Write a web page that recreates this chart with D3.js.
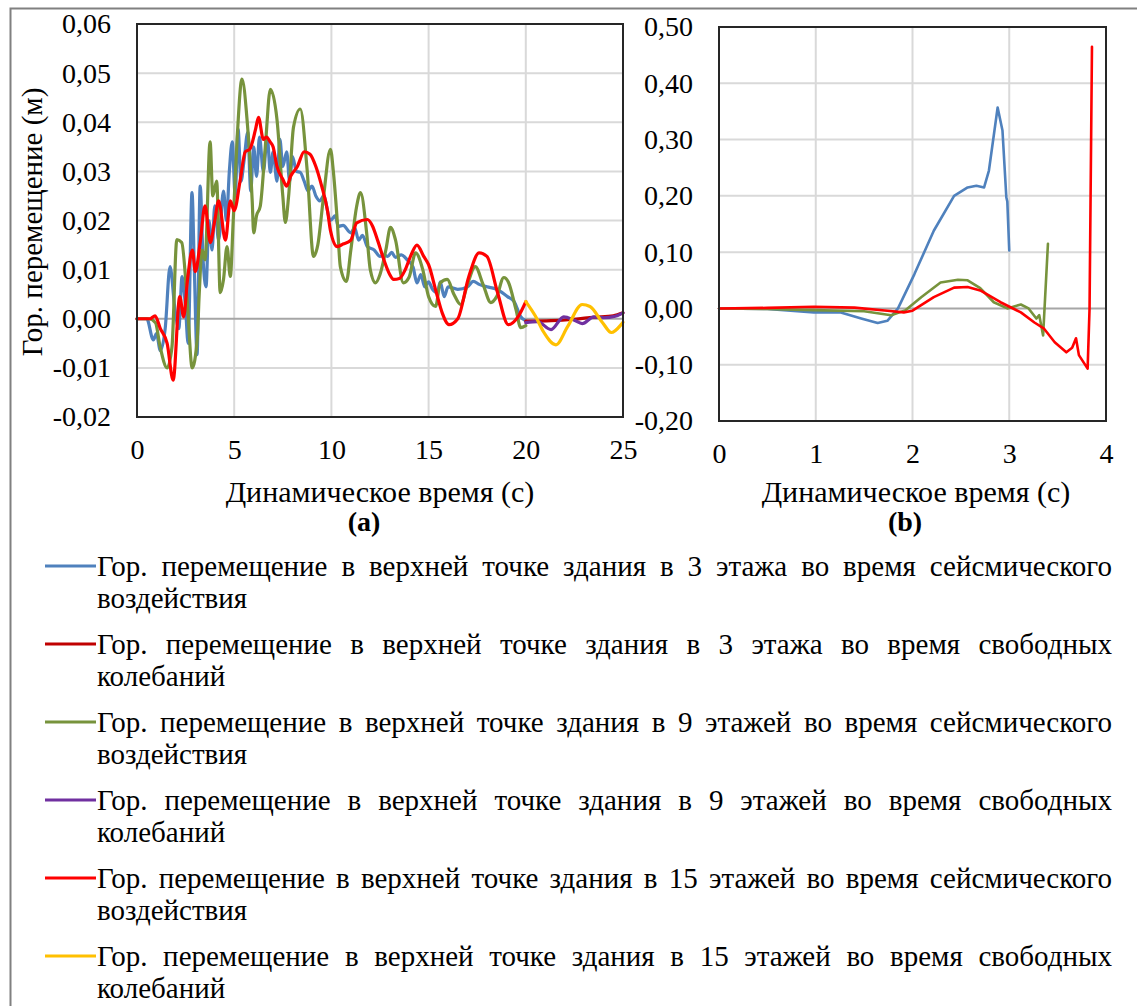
<!DOCTYPE html>
<html><head><meta charset="utf-8">
<script src="https://cdn.jsdelivr.net/npm/d3@7"></script>
<style>body{margin:0;background:#fff}svg{display:block}text{font-family:"Liberation Serif","Times New Roman",Tinos,"DejaVu Serif",serif;fill:#000}</style>
</head><body>
<svg id="c" width="1138" height="1006"></svg>
<script>
// ---------- data ----------
const xTicksA = [0,5,10,15,20,25];
const yTicksA = [-0.02,-0.01,0,0.01,0.02,0.03,0.04,0.05,0.06];
const xTicksB = [0,1,2,3,4];
const yTicksB = [-0.2,-0.1,0,0.1,0.2,0.3,0.4,0.5];

// (a) [time s, displacement m]
const a3seis = [[0,0],[0.5,0],[0.84,-0.0043],[1.0,-0.003],[1.2,-0.0065],[1.45,-0.002],[1.7,0.0106],[1.95,0.002],[2.15,-0.002],[2.32,0.0086],[2.5,0.002],[2.63,-0.005],[2.83,0.0257],[2.95,0.01],[3.09,-0.0073],[3.25,0.027],[3.4,0.012],[3.55,0.0065],[3.7,0.02],[3.86,0.014],[4.0,0.023],[4.2,0.016],[4.45,0.026],[4.6,0.02],[4.75,0.03],[4.9,0.036],[5.05,0.025],[5.2,0.0386],[5.35,0.028],[5.5,0.032],[5.7,0.038],[5.85,0.026],[6.0,0.035],[6.15,0.029],[6.3,0.037],[6.5,0.03],[6.7,0.037],[6.86,0.0298],[7.0,0.034],[7.2,0.028],[7.35,0.0365],[7.5,0.031],[7.7,0.034],[7.85,0.028],[8.0,0.033],[8.2,0.03],[8.4,0.0298],[8.6,0.028],[8.8,0.026],[9.0,0.027],[9.2,0.025],[9.4,0.024],[9.6,0.025],[9.95,0.02],[10.2,0.021],[10.35,0.0188],[10.6,0.019],[11.0,0.0175],[11.2,0.0185],[11.4,0.016],[11.6,0.017],[11.85,0.0147],[12.2,0.014],[12.5,0.0127],[12.7,0.013],[12.9,0.0127],[13.1,0.0135],[13.3,0.0125],[13.6,0.013],[13.9,0.012],[14.2,0.0105],[14.4,0.0073],[14.6,0.009],[14.8,0.0065],[15.0,0.0075],[15.2,0.006],[15.45,0.0053],[15.6,0.0075],[15.8,0.0045],[16.0,0.0065],[16.5,0.006],[17.0,0.0065],[17.3,0.0076],[17.6,0.007],[18.0,0.0065],[18.5,0.006],[19.06,0.0045],[19.4,0.0035],[19.74,0.0004],[20,-0.0004]];
const a3free = [[20,-0.0005],[21.3,-0.0004],[22.5,-0.0001],[23.5,0.0003],[24.5,0.0006],[25,0.0012]];
const a9seis = [[0,0],[0.6,0],[0.95,-0.0008],[1.19,-0.0057],[1.55,-0.01],[1.8,-0.0057],[2.05,0.0161],[2.3,0.0155],[2.58,0.0039],[2.84,-0.01],[3.1,-0.004],[3.2,0.005],[3.35,0.014],[3.5,0.012],[3.76,0.036],[3.9,0.025],[4.1,0.028],[4.28,0.0053],[4.45,0.008],[4.63,0.0147],[4.8,0.0086],[4.95,0.02],[5.15,0.0366],[5.4,0.0488],[5.66,0.0406],[5.93,0.0237],[6.0,0.0175],[6.15,0.021],[6.34,0.0229],[6.6,0.035],[6.86,0.0467],[7.2,0.0406],[7.5,0.025],[7.63,0.0196],[7.8,0.025],[8.05,0.039],[8.4,0.0427],[8.75,0.0304],[9.08,0.0127],[9.3,0.015],[9.6,0.025],[9.95,0.0345],[10.1,0.03],[10.3,0.02],[10.46,0.0106],[10.77,0.0076],[11.0,0.014],[11.3,0.0229],[11.5,0.0257],[11.8,0.018],[12.0,0.01],[12.27,0.0073],[12.5,0.009],[12.8,0.014],[13.04,0.0186],[13.3,0.016],[13.7,0.0073],[14.0,0.0085],[14.33,0.0134],[14.7,0.01],[15.0,0.0045],[15.36,0.0025],[15.6,0.0073],[15.96,0.008],[16.3,0.005],[16.65,0.0029],[17.0,0.007],[17.4,0.0106],[17.8,0.007],[18.2,0.0033],[18.5,0.0045],[18.87,0.0084],[19.1,0.0075],[19.5,0.0018],[19.74,-0.0018],[20,-0.0014]];
const a9free = [[20,-0.0008],[20.6,-0.0006],[21.3,-0.0022],[21.95,0.0004],[22.5,-0.0003],[22.9,-0.001],[23.5,0.0004],[24.0,0.0002],[24.6,0.0005],[25,0.0012]];
const a15seis = [[0,0],[0.67,0],[0.93,0.0006],[1.2,-0.002],[1.55,-0.005],[1.86,-0.0125],[2.2,0.0045],[2.4,0.0004],[2.6,0.008],[2.85,0.014],[3.0,0.0096],[3.25,0.0155],[3.5,0.023],[3.77,0.0155],[4.0,0.02],[4.2,0.024],[4.55,0.016],[4.8,0.024],[5.0,0.022],[5.3,0.028],[5.57,0.034],[5.8,0.0345],[6.1,0.0386],[6.25,0.041],[6.5,0.0365],[6.65,0.037],[6.85,0.036],[7.0,0.035],[7.2,0.031],[7.5,0.0284],[7.7,0.027],[7.9,0.029],[8.25,0.031],[8.6,0.034],[8.9,0.0335],[9.2,0.031],[9.5,0.027],[9.8,0.022],[9.95,0.018],[10.3,0.0147],[10.6,0.0152],[11.0,0.016],[11.3,0.0195],[11.85,0.0202],[12.1,0.019],[12.4,0.0157],[12.7,0.012],[13.0,0.009],[13.2,0.008],[13.5,0.0082],[13.8,0.01],[14.1,0.013],[14.4,0.015],[14.75,0.0127],[15.0,0.011],[15.4,0.0053],[15.7,0.0012],[16.05,-0.0012],[16.5,0],[17.07,0.0086],[17.6,0.0134],[18.0,0.0127],[18.55,0.0053],[19.1,-0.0012],[19.6,0.0004],[20,0.0035]];
const a15free = [[20,0.0035],[20.5,0.0005],[20.9,-0.0026],[21.55,-0.0053],[22.15,-0.0016],[22.9,0.0029],[23.3,0.0025],[23.95,-0.0008],[24.4,-0.0028],[24.9,-0.0012],[25,-0.0007]];

// (b)
const b3seis = [[0,0],[0.5,-0.001],[0.98,-0.007],[1.25,-0.007],[1.47,-0.018],[1.64,-0.026],[1.74,-0.022],[1.85,0],[2.02,0.061],[2.22,0.138],[2.43,0.2],[2.57,0.215],[2.66,0.218],[2.74,0.215],[2.79,0.245],[2.88,0.357],[2.93,0.316],[2.97,0.197],[2.98,0.19],[3.0,0.103]];
const b9seis = [[0,0],[0.5,-0.001],[0.98,-0.003],[1.5,-0.005],[1.78,-0.012],[1.93,-0.003],[2.09,0.02],[2.29,0.046],[2.47,0.051],[2.57,0.05],[2.7,0.036],[2.84,0.011],[2.98,0],[3.12,0.007],[3.2,0],[3.28,-0.018],[3.31,-0.012],[3.35,-0.048],[3.4,0.115]];
const b15seis = [[0,0],[0.5,0.001],[0.98,0.003],[1.4,0.0015],[1.74,-0.004],[1.91,-0.007],[2.0,-0.004],[2.22,0.02],[2.43,0.037],[2.57,0.038],[2.7,0.032],[2.91,0.011],[3.12,-0.007],[3.26,-0.025],[3.36,-0.036],[3.47,-0.06],[3.59,-0.078],[3.65,-0.07],[3.69,-0.053],[3.72,-0.083],[3.81,-0.107],[3.83,0],[3.855,0.465]];

const legendFirst = [
 "Гор. перемещение в верхней точке здания в 3 этажа  во время сейсмического",
 "Гор. перемещение в верхней точке здания в 3 этажа  во время свободных",
 "Гор. перемещение в верхней точке здания в 9 этажей во время сейсмического",
 "Гор. перемещение в верхней точке здания в 9 этажей во время свободных",
 "Гор. перемещение в верхней точке здания в 15 этажей во время сейсмического",
 "Гор. перемещение в верхней точке здания в 15 этажей во время свободных"];
const legendSecond = ["воздействия","колебаний","воздействия","колебаний","воздействия","колебаний"];
const colors = ["#4F81BD","#C00000","#77933C","#7030A0","#FF0000","#FFC000"];
const yTitle = "Гор. перемещение (м)";
const xTitle = "Динамическое время (с)";
const panelLabels = ["(a)","(b)"];

// ---------- drawing ----------
const svg = d3.select("#c");
const fmt = d => d3.format(".2f")(d).replace(".",",").replace("−","-");
const FS = 28;

svg.append("path").attr("d","M10.5,1006 L10.5,8.5 L1137,8.5").attr("fill","none").attr("stroke","#808080").attr("stroke-width",2);

function panel(cfg){
  const x = d3.scaleLinear().domain(cfg.xd).range([cfg.x0,cfg.x1]);
  const y = d3.scaleLinear().domain(cfg.yd).range([cfg.y1,cfg.y0]);
  const g = svg.append("g");
  g.selectAll(".gx").data(cfg.xt.slice(1,-1)).join("line")
    .attr("x1",d=>x(d)).attr("x2",d=>x(d)).attr("y1",cfg.y0).attr("y2",cfg.y1)
    .attr("stroke","#D9D9D9").attr("stroke-width",2);
  g.selectAll(".gy").data(cfg.yt.slice(1,-1)).join("line")
    .attr("x1",cfg.x0).attr("x2",cfg.x1).attr("y1",d=>y(d)).attr("y2",d=>y(d))
    .attr("stroke",d=>d===0?"#A6A6A6":"#D9D9D9").attr("stroke-width",2);
  const line = d3.line().x(d=>x(d[0])).y(d=>y(d[1])).curve(cfg.curve);
  cfg.series.forEach(s=>{
    g.append("path").datum(s.data).attr("d",line).attr("fill","none")
      .attr("stroke",s.color).attr("stroke-width",cfg.lw).attr("stroke-linejoin","round").attr("stroke-linecap","round");
  });
  g.append("rect").attr("x",cfg.x0).attr("y",cfg.y0).attr("width",cfg.x1-cfg.x0).attr("height",cfg.y1-cfg.y0)
    .attr("fill","none").attr("stroke","#262626").attr("stroke-width",2);
  const ya = d3.axisLeft(y).tickValues(cfg.yt).tickFormat(fmt).tickSize(0).tickPadding(cfg.ypad);
  const yg = g.append("g").attr("transform",`translate(${cfg.x0},0)`).call(ya);
  yg.select(".domain").remove();
  yg.attr("font-family",null);
  yg.selectAll("text").attr("font-size",FS).attr("fill","#000");
  const xa = d3.axisBottom(x).tickValues(cfg.xt).tickFormat(d3.format("d")).tickSize(0).tickPadding(cfg.xpad);
  const xg = g.append("g").attr("transform",`translate(0,${cfg.y1})`).call(xa);
  xg.select(".domain").remove();
  xg.attr("font-family",null);
  xg.selectAll("text").attr("font-size",FS).attr("fill","#000");
  g.append("text").attr("x",cfg.tx).attr("y",cfg.ty).attr("text-anchor","middle").attr("font-size",30).text(xTitle);
  g.append("text").attr("x",cfg.lx).attr("y",cfg.ly).attr("text-anchor","middle").attr("font-size",FS).attr("font-weight","bold").text(cfg.label);
}

panel({xd:[0,25],yd:[-0.02,0.06],x0:137,x1:623,y0:24,y1:417,xt:xTicksA,yt:yTicksA,ypad:26,xpad:22,
  tx:380,ty:502,lx:364,ly:531,label:panelLabels[0],lw:3.2,curve:d3.curveMonotoneX,
  series:[{data:a3seis,color:colors[0]},{data:a9seis,color:colors[2]},{data:a15seis,color:colors[4]},
          {data:a3free,color:colors[1]},{data:a9free,color:colors[3]},{data:a15free,color:colors[5]}]});
panel({xd:[0,4],yd:[-0.2,0.5],x0:719,x1:1106,y0:27,y1:421,xt:xTicksB,yt:yTicksB,ypad:26,xpad:22,
  tx:916,ty:502,lx:905,ly:531,label:panelLabels[1],lw:2.6,curve:d3.curveLinear,
  series:[{data:b3seis,color:colors[0]},{data:b9seis,color:colors[2]},{data:b15seis,color:colors[4]}]});

svg.append("text").attr("transform","translate(42,222) rotate(-90)").attr("text-anchor","middle").attr("font-size",29).text(yTitle);

const LX0 = 97, LX1 = 1112;
legendFirst.forEach((txt,i)=>{
  const base = 576 + i*78;
  svg.append("line").attr("x1",45).attr("x2",96).attr("y1",base-10).attr("y2",base-10)
    .attr("stroke",colors[i]).attr("stroke-width",3);
  const words = txt.split(/\s+/);
  const nodes = words.map(w=>svg.append("text").attr("y",base).attr("font-size",29).text(w));
  const widths = nodes.map(n=>n.node().getComputedTextLength());
  const total = d3.sum(widths);
  const gap = (LX1-LX0-total)/(words.length-1);
  let cx = LX0;
  nodes.forEach((n,k)=>{ n.attr("x",cx); cx += widths[k]+gap; });
  svg.append("text").attr("x",LX0).attr("y",base+32).attr("font-size",29).text(legendSecond[i]);
});
</script>
</body></html>
